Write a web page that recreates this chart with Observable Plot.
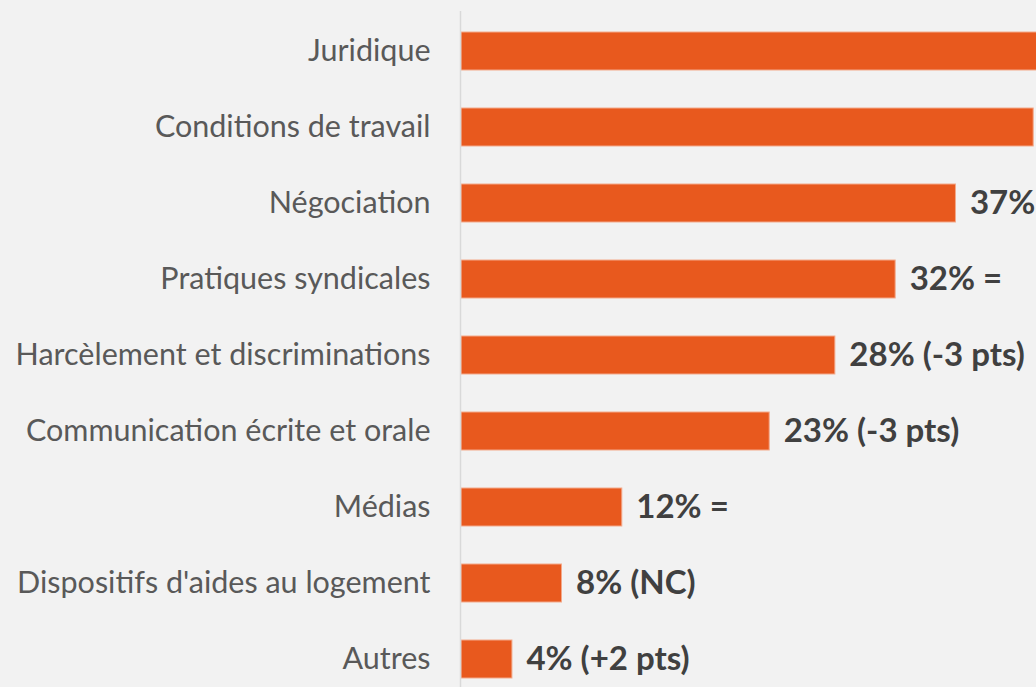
<!DOCTYPE html>
<html>
<head>
<meta charset="utf-8">
<script src="https://cdn.jsdelivr.net/npm/d3@7"></script>
<script src="https://cdn.jsdelivr.net/npm/@observablehq/plot@0.6"></script>
<style>
  html, body { margin: 0; padding: 0; background: #f2f2f2; overflow: hidden; }
  #chart svg { display: block; max-width: none; }
</style>
</head>
<body>
<div id="chart"></div>
<script>
const categories = [
  "Juridique",
  "Conditions de travail",
  "Négociation",
  "Pratiques syndicales",
  "Harcèlement et discriminations",
  "Communication écrite et orale",
  "Médias",
  "Dispositifs d'aides au logement",
  "Autres"
];
const values = [47, 42.7, 36.9, 32.4, 27.9, 23.0, 12.0, 7.5, 3.8];
const labels = ["47%", "43%", "37%", "32% =", "28% (-3 pts)", "23% (-3 pts)", "12% =", "8% (NC)", "4% (+2 pts)"];

const data = categories.map((c, i) => ({category: c, value: values[i], label: labels[i]}));

const font = "Lato, 'Open Sans', sans-serif";

const chart = Plot.plot({
  width: 1036,
  height: 687,
  marginTop: 11,
  marginBottom: 0,
  marginLeft: 461,
  marginRight: 0,
  style: {background: "#f2f2f2", fontFamily: font, overflow: "hidden"},
  x: {domain: [0, 50], range: [461, 461 + 50 * 13.4], axis: null},
  y: {domain: categories, range: [11, 698], paddingInner: 0.5, paddingOuter: 0.25, axis: null},
  marks: [
    Plot.barX(data, {y: "category", x: "value", fill: "#E8591E", stroke: "#F3A98A", strokeWidth: 1}),
    Plot.ruleX([0], {stroke: "#d9d9d9", strokeWidth: 1.5, dx: -1}),
    Plot.text(data, {y: "category", x: 0, text: "category", textAnchor: "end", dx: -31, fontSize: 30.5, fill: "#595959", fontFamily: font}),
    Plot.text(data, {y: "category", x: "value", text: "label", textAnchor: "start", dx: 14, fontSize: 33, fontWeight: "bold", fill: "#404040", fontFamily: font})
  ]
});
document.getElementById("chart").append(chart);
</script>
</body>
</html>
